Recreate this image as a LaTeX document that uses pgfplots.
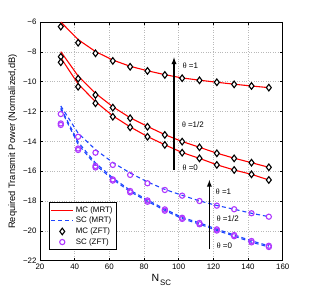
\documentclass[border=0pt]{standalone}
\usepackage{pgfplots}
\pgfplotsset{compat=1.18}
\usepackage{fontspec}
\setmainfont{Liberation Sans}
\newfontfamily\serif{Liberation Serif}
\definecolor{mblue}{RGB}{30,70,255}
\definecolor{mpurple}{RGB}{175,55,255}
\begin{document}
\begin{tikzpicture}
\useasboundingbox (-40pt,-33.3pt) rectangle (272pt,260.7pt);
\begin{axis}[
 at={(0,0)}, anchor=south west,
 scale only axis, width=242.7pt, height=238.7pt,
 xmin=20, xmax=160, ymin=-22, ymax=-6,
 xtick={20,40,...,160}, ytick={-22,-20,...,-6},
 yticklabels={−22,−20,−18,−16,−14,−12,−10,−8,−6},
 /pgf/number format/assume math mode=true,
 ticklabel style={font=\fontsize{7.9}{9}\selectfont},
 grid=major, grid style={dotted, gray!55, line width=0.5pt},
 tick align=inside, major tick length=3pt, tick pos=both,
 tick style={black, line width=0.5pt},
 axis line style={line width=0.6pt},
 ylabel={Required Transmit Power (Normalized,dB)},
 ylabel style={font=\fontsize{9.3}{10}\selectfont, at={(axis description cs:-0.112,0.5)}, anchor=center},
 xlabel={\fontsize{10.5}{11}\selectfont N\hspace{1pt}\raisebox{-4.5pt}{\fontsize{7.9}{8}\selectfont SC}},
 xlabel style={at={(axis description cs:0.5,0)}, anchor=north, yshift=-10pt},
 legend style={at={(rel axis cs:0.037,0.246)}, anchor=north west, font=\fontsize{7.9}{8}\selectfont, inner sep=1.5pt, row sep=-0.6pt, cells={anchor=west}},
]
\addlegendimage{empty legend}
\addlegendentry[inner sep=0pt, font=\fontsize{1}{1}\selectfont]{}
\addlegendimage{legend image code/.code={\color{red}\draw[draw=red, line width=1.2pt] (0pt,0pt) -- (22pt,0pt);}}
\addlegendentry{MC (MRT)}
\addlegendimage{legend image code/.code={\draw[color=mblue, line width=1.2pt, dash pattern=on 4pt off 3pt] (0pt,0pt) -- (22pt,0pt);}}
\addlegendentry{SC (MRT)}
\addlegendimage{legend image code/.code={\draw[black, fill=white, line width=1.1pt] plot[mark=diamond*, mark size=3.3pt] coordinates {(11pt,0pt)};}}
\addlegendentry{MC (ZFT)}
\addlegendimage{legend image code/.code={\draw[mpurple, line width=1.1pt] plot[mark=o, mark size=2.6pt] coordinates {(11pt,0pt)};}}
\addlegendentry{SC (ZFT)}
% MC MRT (red lines)
\addplot[color=red, line width=1.1pt, forget plot] coordinates {(32,-6.0) (42,-7.18) (52,-7.98) (62,-8.55) (72,-8.97) (82,-9.27) (92,-9.53) (102,-9.75) (112,-9.90) (122,-10.04) (132,-10.17) (142,-10.29) (152,-10.40)};
\addplot[color=red, line width=1.1pt, forget plot] coordinates {(32,-7.99) (42,-9.62) (52,-10.78) (62,-11.68) (72,-12.42) (82,-13.00) (92,-13.55) (102,-14.01) (112,-14.40) (122,-14.79) (132,-15.13) (142,-15.43) (152,-15.74)};
\addplot[color=red, line width=1.1pt, forget plot] coordinates {(32,-8.40) (42,-10.15) (52,-11.34) (62,-12.29) (72,-13.03) (82,-13.68) (92,-14.23) (102,-14.75) (112,-15.14) (122,-15.57) (132,-15.92) (142,-16.21) (152,-16.59)};
% SC MRT (blue dashed)
\addplot[color=mblue, line width=1.1pt, dash pattern=on 4pt off 3pt, forget plot] coordinates {(32,-11.63) (42,-13.45) (52,-14.55) (62,-15.42) (72,-16.12) (82,-16.72) (92,-17.22) (102,-17.62) (112,-17.99) (122,-18.30) (132,-18.55) (142,-18.82) (152,-19.05)};
\addplot[color=mblue, line width=1.1pt, dash pattern=on 4pt off 3pt, forget plot] coordinates {(32,-11.75) (42,-14.05) (52,-15.45) (62,-16.45) (72,-17.28) (82,-17.93) (92,-18.54) (102,-19.10) (112,-19.46) (122,-19.89) (132,-20.27) (142,-20.67) (152,-21.00)};
\addplot[color=mblue, line width=1.1pt, dash pattern=on 4pt off 3pt, forget plot] coordinates {(32,-11.85) (42,-14.20) (52,-15.58) (62,-16.55) (72,-17.37) (82,-18.02) (92,-18.63) (102,-19.18) (112,-19.55) (122,-19.97) (132,-20.35) (142,-20.76) (152,-21.08)};
% MC ZFT diamonds
\addplot[only marks, mark=diamond*, mark size=3.3pt, mark options={black, fill=white, line width=1.1pt}, forget plot] coordinates {(32,-6.31) (42,-7.39) (52,-8.10) (62,-8.61) (72,-9.00) (82,-9.28) (92,-9.55) (102,-9.77) (112,-9.91) (122,-10.04) (132,-10.18) (142,-10.29) (152,-10.40)};
\addplot[only marks, mark=diamond*, mark size=3.3pt, mark options={black, fill=white, line width=1.1pt}, forget plot] coordinates {(32,-8.33) (42,-9.80) (52,-10.89) (62,-11.74) (72,-12.45) (82,-13.02) (92,-13.57) (102,-14.02) (112,-14.40) (122,-14.80) (132,-15.14) (142,-15.43) (152,-15.74)};
\addplot[only marks, mark=diamond*, mark size=3.3pt, mark options={black, fill=white, line width=1.1pt}, forget plot] coordinates {(32,-8.70) (42,-10.34) (52,-11.45) (62,-12.35) (72,-13.06) (82,-13.69) (92,-14.24) (102,-14.76) (112,-15.14) (122,-15.58) (132,-15.92) (142,-16.21) (152,-16.59)};
% SC ZFT circles
\addplot[only marks, mark=o, mark size=2.6pt, mark options={mpurple, line width=1.1pt}, forget plot] coordinates {(32,-12.17) (42,-13.69) (52,-14.76) (62,-15.58) (72,-16.25) (82,-16.81) (92,-17.26) (102,-17.64) (112,-18.00) (122,-18.31) (132,-18.55) (142,-18.82) (152,-19.05)};
\addplot[only marks, mark=o, mark size=2.6pt, mark options={mpurple, line width=1.1pt}, forget plot] coordinates {(32,-12.80) (42,-14.48) (52,-15.65) (62,-16.55) (72,-17.33) (82,-17.96) (92,-18.56) (102,-19.12) (112,-19.47) (122,-19.90) (132,-20.28) (142,-20.68) (152,-21.00)};
\addplot[only marks, mark=o, mark size=2.6pt, mark options={mpurple, line width=1.1pt}, forget plot] coordinates {(32,-12.90) (42,-14.58) (52,-15.75) (62,-16.63) (72,-17.42) (82,-18.05) (92,-18.65) (102,-19.20) (112,-19.56) (122,-19.98) (132,-20.36) (142,-20.77) (152,-21.08)};
% arrows and labels
\draw[-latex, line width=1.3pt] (axis cs:97.3,-15.9) -- (axis cs:97.3,-8.37);
\draw[-latex, line width=1.3pt] (axis cs:117.7,-21.23) -- (axis cs:117.7,-16.59);
\begin{scope}[every node/.style={font=\fontsize{8}{9}\selectfont, anchor=west, inner sep=0pt}]
\node at (axis cs:102.3,-8.93) {{\serif θ} =1};
\node at (axis cs:101.8,-12.9) {{\serif θ} =1/2};
\node at (axis cs:102.2,-15.8) {{\serif θ} =0};
\node at (axis cs:121.4,-17.37) {{\serif θ} =1};
\node at (axis cs:121.9,-19.16) {{\serif θ} =1/2};
\node at (axis cs:121.9,-21.01) {{\serif θ} =0};
\end{scope}
\end{axis}
\end{tikzpicture}
\end{document}
